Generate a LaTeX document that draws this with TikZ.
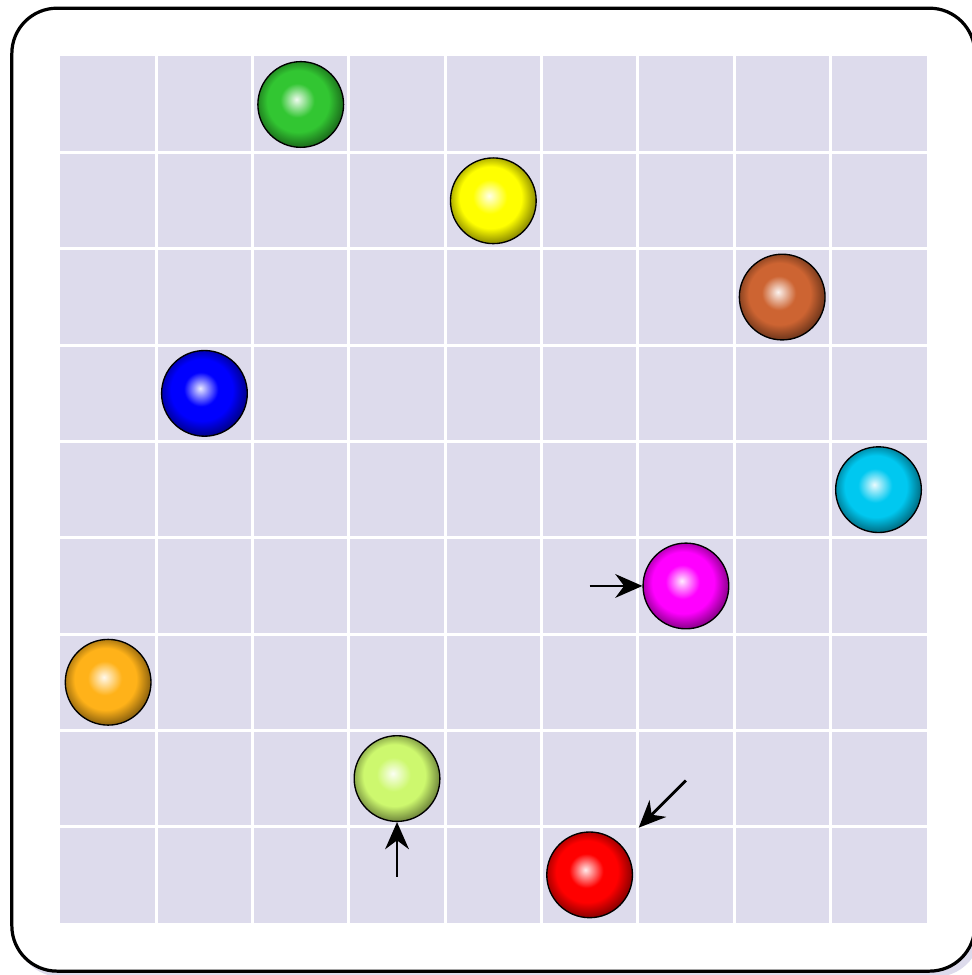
\documentclass[tikz,border=0pt]{standalone}
\usetikzlibrary{arrows.meta}
\usepackage{xcolor}

\definecolor{cellbg}{RGB}{221,219,236}
\definecolor{ballgreen}{RGB}{50,198,50}
\definecolor{ballbrown}{RGB}{205,100,50}
\definecolor{ballcyan}{RGB}{0,200,240}
\definecolor{ballorange}{RGB}{255,178,25}
\definecolor{balllime}{RGB}{205,248,110}

\makeatletter
\pgfdeclareradialshading[tikz@ball]{glossball}{\pgfqpoint{-2.5bp}{3bp}}{%
  color(0bp)=(tikz@ball!8!white);
  color(4bp)=(tikz@ball!45!white);
  color(10bp)=(tikz@ball);
  color(18bp)=(tikz@ball);
  color(28bp)=(tikz@ball!45!black);
  color(50bp)=(black)}
\makeatother

\tikzset{
  ballnode/.style={circle,draw=black,thin,inner sep=0pt,minimum size=0.89cm},
  pointer/.style={-{Stealth[length=8pt,width=7pt]},line width=0.8pt}
}

\begin{document}
\begin{tikzpicture}
  \useasboundingbox (-0.623,-0.540) rectangle (9.470,9.585);
  % frame with its shadow
  \fill[cellbg,rounded corners=0.47cm] (-0.46,-0.56) rectangle (9.56,9.44);
  \draw[line width=0.95pt,fill=white,rounded corners=0.47cm] (-0.5,-0.5) rectangle (9.5,9.5);
  % board
  \fill[cellbg] (0,0) rectangle (9,9);
  \foreach \k in {1,...,8}{
    \draw[white,line width=0.9pt] (\k,0) -- (\k,9);
    \draw[white,line width=0.9pt] (0,\k) -- (9,\k);
  }
  % balls
  \foreach \col/\x/\y/\name in {ballgreen/2.5/8.5/g, yellow/4.5/7.5/y,
      ballbrown/7.5/6.5/br, blue/1.5/5.5/b, ballcyan/8.5/4.5/c,
      magenta/6.5/3.5/m, ballorange/0.5/2.5/o, balllime/3.5/1.5/l,
      red/5.5/0.5/r}{
    \node[ballnode,ball color=\col,shading=glossball] (\name) at (\x,\y) {};
  }
  % pointers
  \coordinate (mtail) at (5.5,3.5);
  \coordinate (ltail) at (3.5,0.48);
  \coordinate (rtail) at (6.5,1.48);
  \coordinate (rhead) at (6.01,0.99);
  \draw[pointer] (mtail) -- (m.west);
  \draw[pointer] (ltail) -- (l.south);
  \draw[pointer] (rtail) -- (rhead);
\end{tikzpicture}
\end{document}
